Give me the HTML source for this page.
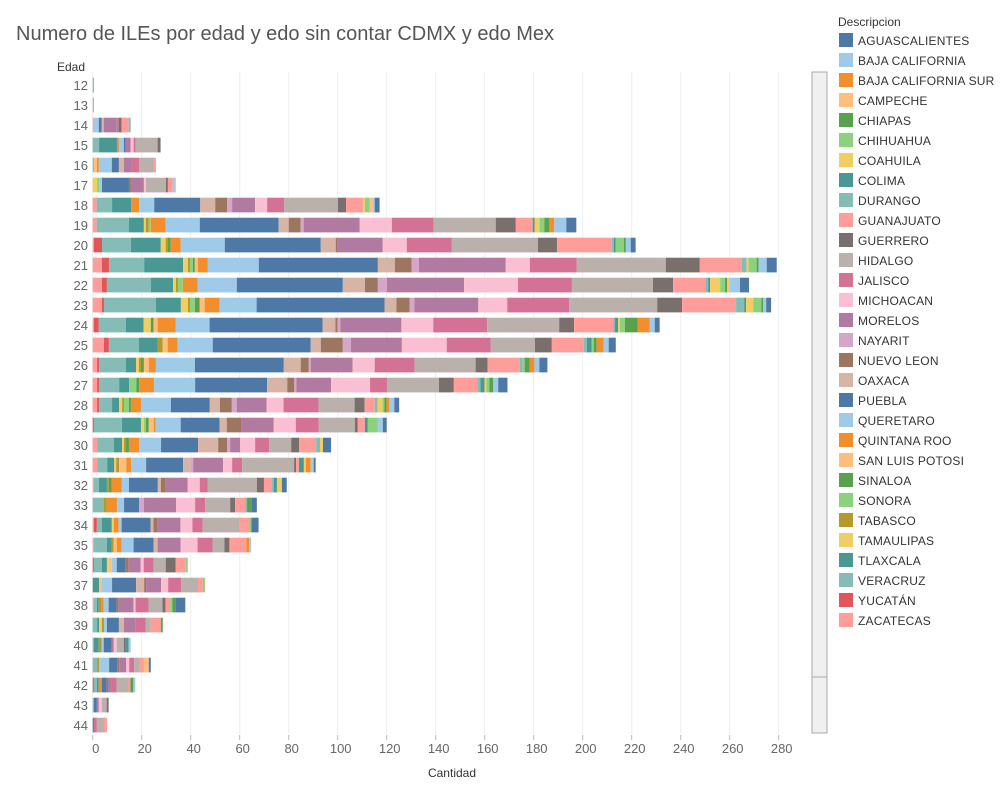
<!DOCTYPE html>
<html><head><meta charset="utf-8"><style>
body{margin:0;background:#fff;font-family:"Liberation Sans",sans-serif;}
svg text{font-family:"Liberation Sans",sans-serif;}
</style></head><body>
<svg id="chart" width="1000" height="800">
<text x="16" y="40" font-size="20" fill="#555">Numero de ILEs por edad y edo sin contar CDMX y edo Mex</text>
<text x="57" y="71" font-size="12" fill="#333">Edad</text>
<text x="452" y="777" font-size="12" fill="#333" text-anchor="middle">Cantidad</text>
<g id="grid"></g><g id="bars"></g><g id="yticks"></g><g id="xticks"></g>
<rect x="812" y="72" width="15" height="661" fill="#f0f0f0" stroke="#aaa"/>
<line x1="812" y1="677" x2="827" y2="677" stroke="#aaa"/>
<text x="838" y="26" font-size="12" fill="#333">Descripcion</text>
<g id="legend"></g>
</svg>
<script>
const states = ["AGUASCALIENTES","BAJA CALIFORNIA","BAJA CALIFORNIA SUR","CAMPECHE","CHIAPAS","CHIHUAHUA","COAHUILA","COLIMA","DURANGO","GUANAJUATO","GUERRERO","HIDALGO","JALISCO","MICHOACAN","MORELOS","NAYARIT","NUEVO LEON","OAXACA","PUEBLA","QUERETARO","QUINTANA ROO","SAN LUIS POTOSI","SINALOA","SONORA","TABASCO","TAMAULIPAS","TLAXCALA","VERACRUZ","YUCATÁN","ZACATECAS"];
const colors = ["#4e79a7","#a0cbe8","#f28e2b","#ffbe7d","#59a14f","#8cd17d","#f1ce63","#499894","#86bcb6","#ff9d9a","#79706e","#bab0ac","#d37295","#fabfd2","#b07aa1","#d4a6c8","#9d7660","#d7b5a6","#4e79a7","#a0cbe8","#f28e2b","#ffbe7d","#59a14f","#8cd17d","#b6992d","#f1ce63","#499894","#86bcb6","#e15759","#ff9d9a"];
const ages = [12,13,14,15,16,17,18,19,20,21,22,23,24,25,26,27,28,29,30,31,32,33,34,35,36,37,38,39,40,41,42,43,44];
const xTicks = [0,20,40,60,80,100,120,140,160,180,200,220,240,260,280];
// Each row: values in stacking order ZACATECAS .. AGUASCALIENTES (reverse of legend)
const age12=[0,0,0.5,0,0,0,0,0,0,0,0,0,0,0,0,0,0,0,0,0,0,0,0,0,0,0,0,0,0,0];
const age13=[0,0,0,0,0,0,0,0,0,0,0,0,0,0,0,0,0,0,0.5,0,0,0,0,0,0,0,0,0,0,0];
const age14=[.5,0,0,0,0,0,0,0,0,0,2,1.2,.8,0,0,5.3,0,.8,0,1.2,2.9,.8,0,0,0,0,0,0,0,0];
const age15=[0,0,2.6,7.3,0,0,0,0,0,.8,2,.8,0,0,0,2,1.2,.8,9,1.2,0,0,0,0,0,0,0,0,0,0];
const age16=[0,0,.5,0,0,0,0,0,1.2,.8,5.3,2.9,2,0,0,3.3,0,2.9,6.1,0,.8,0,0,0,0,0,0,0,0,0];
const age17=[0,0,0,0,1.8,0,.8,0,0,0,1.2,11,0,.8,0,5.3,.8,0,8.2,.8,2,0,0,0,0,0,0,0,1.2,0];
const age18=[1.6,0,6.3,7.8,0,0,0,0,0,3.3,6.1,18.8,6.1,4.9,2,9.4,4.9,6.9,22,3.3,6.9,0,0,.8,2,0,1.2,0,.8,2];
const age19=[1.6,0,13.2,6.1,.8,1.2,.8,0,0,6.1,13.9,32.2,4.1,4.9,1.2,22.9,13.1,17.1,25.3,8.2,6.9,0,.8,2,2,2,0,2,4.9,4.1];
const age20=[.5,3.3,11.8,12.2,2,.8,0,1.2,0,4.1,18,39.2,6.1,.8,0,18.4,9.8,18.4,35.1,7.8,22.4,.8,.8,0,3.3,.8,0,0,2,2];
const age21=[3.8,2.9,14.3,15.9,2,.8,1.2,.8,1.2,4.1,20.8,48.6,6.9,6.9,2.9,35.5,9.8,19.2,36.3,13.9,17.1,2,0,.8,3.3,.8,0,0,3.3,4.1];
const age22=[3.8,2,18,9,1.2,.8,2,0,0,6.1,15.9,43.3,9,5.3,3.7,31.5,22,22,33.1,8.2,13.1,1.2,.8,4.1,2,.8,1.2,0,4.1,3.7];
const age23=[3.8,.8,21.2,10.2,2.9,.8,2,2,2,6.1,15.1,52.2,4.9,5.3,2,26.1,11.8,25.3,35.9,10.2,22,3.3,.8,2.9,3.3,.8,0,0,1.2,2];
const age24=[.5,2,11,7.3,2.9,0,0,1.2,1.6,7.3,13.9,46.1,5.3,.8,1.2,24.9,13,22,29.4,6.1,15.9,.8,1.2,.8,2,5.3,0,4.9,2,2];
const age25=[4.6,2,12.2,7.8,0,2,0,0,2,4.1,14.3,40,4.1,9,3.3,20.8,18.3,18,18,6.9,13.1,1.2,2,0,.8,1.2,0,2.9,2,2.9];
const age26=[1.8,.8,11,4.1,1.2,.8,0,1.2,2,2.9,15.9,36.3,6.9,3.3,.8,17.1,9,16.3,24.9,4.9,13.1,1.2,0,0,.8,2,0,2,2,3.3];
const age27=[1.8,.8,8.2,4.1,0,0,2.9,1.2,0,6.1,16.7,29.4,8.2,2.9,.8,14.2,15.9,6.9,21.2,6.1,9.7,1.2,1.6,.8,1.2,1.6,0,0,2,3.8];
const age28=[1.8,.8,5.3,2.9,1.2,.8,2,.8,0,4.1,12.2,15.9,4.1,4.9,2,12.2,6.9,14.3,14.7,4.1,4.1,1.2,0,2,.8,.8,0,1.2,2,2];
const age29=[0,.5,11.4,7.8,1.2,0,.8,1.2,2,.8,10.2,15.9,2.9,6.1,0,13.1,9,9.4,14.7,1.2,2.9,0,1.2,0,4.1,0,0,0,2,1.6];
const age30=[1.8,0,6.9,3.3,.8,.8,0,1.2,0,4.1,9,15.1,8.2,3.7,1.2,4.1,6.1,5.7,9,3.3,6.9,1.6,0,1.2,0,0,0,0,0,3.3];
const age31=[1.8,0,4.1,2.9,.8,1.2,0,0,2.9,2,6.1,15.1,2.9,0,1.2,12.2,3.7,4.1,21.2,.8,1.2,0,2,.8,0,0,0,2,1.2,.8];
const age32=[.5,0,2,3.3,0,.8,0,1.2,0,4.1,2.9,11.8,1.2,2,0,9,4.9,3.3,20,2.9,3.3,.8,1.2,2,0,0,0,0,0,2];
const age33=[0,0,4.6,0,0,1.2,0,0,0,4.1,2.9,6.1,0,0,2,13.1,7.8,4.1,10.2,2,4.1,.8,0,0,0,2,0,0,0,2];
const age34=[.5,1.2,2,4.1,.8,0,0,0,0,2,1.2,11.8,1.2,1.6,0,9.4,4.9,4.1,15.1,0,4.1,0,0,0,.8,0,0,0,0,2.9];
const age35=[.5,0,5.3,2,0,.8,0,0,1.2,2,4.9,8.2,1.6,0,0,9.4,6.9,6.1,4.9,2,6.9,0,0,0,0,0,0,1.2,.8,0];
const age36=[0,.5,3.3,2,.8,0,0,0,1.2,0,2,3.7,0,1.2,0,4.9,1.2,4.1,4.9,4.1,4.1,0,0,0,.8,0,0,0,0,0];
const age37=[0,0,0,2.6,0,0,0,0,1.2,0,4.1,9.8,3.3,.8,0,6.1,2.9,5.3,6.9,0,2,0,0,0,.8,0,0,0,0,0];
const age38=[.5,0,1.2,.8,0,1.2,0,0,0,.8,2,3.3,0,.8,0,6.1,.8,5.3,5.7,1.2,2,0,0,0,.8,1.2,0,0,0,4.1];
const age39=[0,0,1.8,.8,1.2,.8,0,0,0,0,1.2,4.9,2,0,0,4.9,0,4.1,2,0,4.1,0,0,0,0,.8,0,0,0,0];
const age40=[0,0,.5,2,0,1.2,0,0,0,0,.8,3.3,0,0,0,.8,1.2,0,2.9,.8,0,0,1.2,0,0,0,0,0,.8,0];
const age41=[0,0,1.8,0,0,.8,0,0,0,0,4.1,3.3,0,.8,0,2.9,1.2,2,2,0,2,0,0,0,0,0,2,0,0,.8];
const age42=[0,.5,1.2,.8,0,0,0,0,0,1.2,0,2,0,.8,0,1.2,0,2,4.9,0,.8,0,0,0,0,1.2,0,0,.8,0];
const age43=[0,0,.5,0,0,0,0,0,0,0,0,1.2,0,0,0,.8,1.2,0,2,.8,0,0,0,0,0,0,0,0,0,0];
const age44=[0,0,0,0,0,0,0,0,0,0,0,.5,0,0,0,0,0,1.2,2.9,0,1.2,0,0,0,0,0,0,0,0,0];
const rows=[age12,age13,age14,age15,age16,age17,age18,age19,age20,age21,age22,age23,age24,age25,age26,age27,age28,age29,age30,age31,age32,age33,age34,age35,age36,age37,age38,age39,age40,age41,age42,age43,age44];

const NS="http://www.w3.org/2000/svg";
const X0=92.7, PX=2.45;
function xs(v){return X0+v*PX;}
function ys(i){return 85+i*20;}
function mk(tag,attrs,parent){const e=document.createElementNS(NS,tag);for(const k in attrs)e.setAttribute(k,attrs[k]);parent.appendChild(e);return e;}
const grid=document.getElementById('grid'),bars=document.getElementById('bars'),yt=document.getElementById('yticks'),xt=document.getElementById('xticks'),lg=document.getElementById('legend');
xTicks.forEach(t=>{
  const g=mk('line',{x1:xs(t),x2:xs(t),y1:72,y2:734,stroke:'#efefef','stroke-width':1},grid);
  
  
  const tk=mk('line',{x1:xs(t),x2:xs(t),y1:735,y2:740,stroke:'#bbb'},xt);
  
  
  const tx=mk('text',{x:xs(t)+3,y:753,'font-size':13,fill:'#666','text-anchor':'middle'},xt);
  tx.textContent=t;
  
  
});
ages.forEach((a,i)=>{
  const tx=mk('text',{x:88,y:ys(i)+5,'font-size':13,fill:'#666','text-anchor':'end'},yt);
  tx.textContent=a;
  
  
  let acc=0;
  rows[i].forEach((v,j)=>{
    if(v<=0)return;
    const si=29-j;
    const r=mk('rect',{x:xs(acc),y:ys(i)-7.3,width:v*PX,height:14.7,fill:colors[si]},bars);
    
    
    acc+=v;
  });
});
states.forEach((s,i)=>{
  const y=33+i*20;
  const sw=mk('rect',{x:839,y:y,width:14,height:14,fill:colors[i]},lg);
  
  
  const tx=mk('text',{x:858,y:y+12,'font-size':12,fill:'#333','letter-spacing':'0.2'},lg);
  tx.textContent=s;
  
  
});
</script>
</body></html>
